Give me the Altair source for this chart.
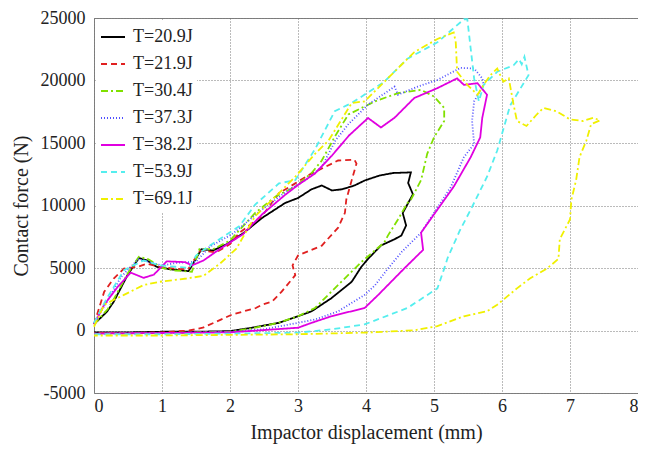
import altair as alt
import pandas as pd

series = ["T=20.9J", "T=21.9J", "T=30.4J", "T=37.3J", "T=38.2J", "T=53.9J", "T=69.1J"]
colors = ["#000000", "#e02020", "#80e000", "#5050ff", "#e000e0", "#55eeee", "#f0f000"]
dashes = [[1, 0], [6, 4], [7, 3, 2, 3], [1, 2], [1, 0], [6, 4], [7, 3, 2, 3]]

x_209 = [0, 0.19, 0.29, 0.49, 0.66, 0.78, 0.92, 1.12, 1.39, 1.44, 1.58, 1.75, 1.95, 2.2, 2.47, 2.81, 3.0, 3.2,
         3.35, 3.5, 3.65, 3.83, 3.98, 4.2, 4.4, 4.66, 4.62, 4.69, 4.6, 4.54, 4.59, 4.52, 4.42, 4.22, 4.03, 3.93,
         3.79, 3.49, 3.2, 3.0, 2.72, 2.3, 2.0, 1.5, 1.0, 0.5, 0]
y_209 = [500, 1500, 2300, 4400, 5800, 5600, 5100, 4900, 4750, 5200, 6500, 6400, 6900, 7800, 9000, 10200, 10600,
         11300, 11600, 11200, 11300, 11600, 12000, 12400, 12600, 12650, 11800, 10900, 10000, 9400, 8400, 7600,
         7300, 6800, 5730, 5080, 3900, 2580, 1535, 1140, 614, 200, -50, -100, -100, -150, -150]

x_219 = [0, 0.15, 0.29, 0.44, 0.63, 0.78, 0.97, 1.27, 1.39, 1.56, 1.8, 2.0, 2.14, 2.47, 2.72, 2.96, 3.15, 3.4,
         3.59, 3.83, 3.86, 3.79, 3.71, 3.69, 3.59, 3.35, 3.0, 2.92, 2.96, 2.76, 2.62, 2.47, 2.38, 2.03, 1.6, 1.4,
         1.0, 0.5, 0]
y_219 = [500, 3100, 4160, 4950, 5080, 5340, 5080, 4900, 4950, 6390, 6260, 6910, 7830, 9150, 10980, 11770, 12420,
         13090, 13600, 13660, 13350, 12030, 10460, 9410, 8230, 6790, 6000, 5210, 4425, 3110, 2320, 2060, 1800,
         1275, 220, 0, -150, -200, -200]

x_304 = [0, 0.2, 0.3, 0.5, 0.66, 0.8, 1.0, 1.2, 1.44, 1.55, 1.75, 2.0, 2.37, 2.67, 2.96, 3.2, 3.35, 3.54, 3.74,
         4.13, 4.47, 4.81, 5.0, 5.15, 5.15, 5.0, 4.9, 4.81, 4.66, 4.61, 4.47, 4.32, 4.27, 3.93, 3.54, 3.25, 3.0,
         2.7, 2.3, 2.0, 1.0, 0]
y_304 = [500, 1700, 2600, 4600, 5900, 5700, 5000, 4800, 4700, 6500, 6500, 7200, 9410, 10720, 11510, 12600,
         13600, 15500, 17280, 18330, 18990, 19250, 18720, 17810, 16760, 15450, 14130, 12030, 10460, 10200, 8880,
         7570, 7050, 5470, 3370, 1800, 1140, 600, 150, -100, -200, -250]

x_373 = [0, 0.2, 0.4, 0.65, 0.8, 1.0, 1.2, 1.5, 1.7, 2.03, 2.47, 2.86, 3.1, 3.35, 3.55, 3.74, 4.03, 4.42, 4.47,
         4.76, 5.05, 5.39, 5.59, 5.71, 5.73, 5.59, 5.56, 5.59, 5.44, 5.25, 5.0, 4.81, 4.52, 4.3, 4.13, 3.98, 3.59,
         3.25, 3.0, 2.5, 2.0, 1.0, 0]
y_373 = [600, 2400, 4300, 5700, 5500, 5200, 5400, 5500, 6700, 7700, 9670, 11240, 12000, 13090, 15200, 16500,
         18070, 19510, 18860, 19510, 20040, 21010, 20960, 20170, 19650, 18330, 16760, 14920, 13870, 11510, 9410,
         7830, 6260, 4800, 3600, 2850, 1535, 880, 614, 100, -100, -200, -250]

x_382 = [0, 0.15, 0.35, 0.54, 0.73, 0.88, 1.07, 1.34, 1.44, 1.61, 1.85, 2.19, 2.47, 2.81, 3.0, 3.25, 3.5, 3.75,
         4.03, 4.22, 4.42, 4.71, 5.05, 5.34, 5.44, 5.64, 5.78, 5.71, 5.68, 5.54, 5.29, 5.05, 4.81, 4.84, 4.56,
         4.18, 3.98, 3.49, 3.2, 3.0, 2.0, 1.0, 0]
y_382 = [500, 2060, 3500, 4630, 4210, 4470, 5530, 5470, 5210, 5600, 6520, 7700, 9280, 10850, 11640, 12560, 14000,
         15600, 17000, 16240, 17020, 18600, 19390, 20170, 19650, 19780, 18860, 17020, 15450, 13870, 11510, 9670,
         7830, 6450, 4950, 2850, 1800, 1140, 614, 220, -150, -200, -250]

x_539 = [0, 0.19, 0.44, 0.58, 0.73, 0.97, 1.2, 1.4, 1.5, 1.7, 2.14, 2.37, 2.72, 2.96, 3.25, 3.54, 3.79, 4.27,
         4.61, 5.05, 5.44, 5.49, 5.54, 5.59, 5.66, 5.73, 5.93, 6.17, 6.25, 6.29, 6.33, 6.39, 6.12, 5.93, 5.78,
         5.54, 5.38, 5.2, 5.15, 5.05, 4.61, 3.98, 3.49, 3.0, 2.0, 1.0, 0]
y_539 = [600, 2580, 4820, 5210, 5600, 5210, 5100, 5000, 6000, 6790, 8360, 10070, 11770, 12030, 14500, 17540,
         18200, 19900, 21750, 23050, 24900, 24900, 22540, 20170, 18330, 19650, 20700, 21220, 21700, 21300, 21900,
         20430, 18000, 14400, 12300, 9670, 8000, 5800, 4950, 3370, 1800, 490, 90, -170, -250, -300, -300]

x_691 = [0, 0.15, 0.44, 0.73, 0.97, 1.36, 1.61, 1.85, 2.09, 2.37, 2.67, 2.96, 3.25, 3.45, 3.79, 3.98, 4.27, 4.71,
         5.05, 5.29, 5.32, 5.34, 5.49, 5.64, 5.73, 5.83, 5.93, 6.02, 6.1, 6.17, 6.22, 6.36, 6.51, 6.61, 6.8, 7.0,
         7.19, 7.34, 7.44, 7.31, 7.24, 7.14, 7.09, 7.02, 7.0, 6.85, 6.83, 6.66, 6.41, 6.22, 5.93, 5.78, 5.44, 5.05,
         4.71, 3.98, 3.0, 2.0, 1.0, 0]
y_691 = [300, 2060, 2850, 3640, 3900, 4160, 4370, 5340, 6520, 9150, 10720, 12300, 14130, 15200, 18200, 18330,
         19900, 22270, 23320, 23840, 23050, 20700, 19650, 18860, 19650, 20430, 20960, 19900, 20170, 18070, 16760,
         16360, 17280, 17810, 17540, 16890, 16760, 17020, 16810, 16500, 15180, 13870, 12030, 10460, 8880, 7310,
         5730, 4950, 4160, 3370, 2060, 1535, 1140, 350, 15, -170, -300, -350, -400, -400]

xs = [x_209, x_219, x_304, x_373, x_382, x_539, x_691]
ys = [y_209, y_219, y_304, y_373, y_382, y_539, y_691]

rows = []
for name, xx, yy in zip(series, xs, ys):
    for i, (a, b) in enumerate(zip(xx, yy)):
        rows.append({"T": name, "d": a, "F": b, "i": i})
df = pd.DataFrame(rows)

FONT = "Liberation Serif"

chart = alt.Chart(df).mark_line(strokeWidth=1.8).encode(
    x=alt.X("d:Q", scale=alt.Scale(domain=[0, 8], nice=False),
            axis=alt.Axis(title="Impactor displacement (mm)", values=list(range(0, 9)),
                          labelExpr="'' + datum.value")),
    y=alt.Y("F:Q", scale=alt.Scale(domain=[-5000, 25000], nice=False),
            axis=alt.Axis(title="Contact force (N)", values=list(range(-5000, 25001, 5000)),
                          labelExpr="'' + datum.value")),
    color=alt.Color("T:N", scale=alt.Scale(domain=series, range=colors),
                    legend=alt.Legend(title=None, orient="top-left")),
    strokeDash=alt.StrokeDash("T:N", scale=alt.Scale(domain=series, range=dashes),
                              legend=alt.Legend(title=None, orient="top-left")),
    order="i:Q",
).properties(
    width=544, height=375,
    autosize=alt.AutoSizeParams(type="none"),
    padding={"left": 86, "top": 10, "right": 0, "bottom": 52},
).configure_view(
    stroke="#808080", strokeWidth=1
).configure_axis(
    domain=False, ticks=False,
    grid=True, gridDash=[1, 2], gridColor="#777777", gridWidth=1,
    labelFont=FONT, labelFontSize=18, labelColor="#222222",
    titleFont=FONT, titleFontSize=20, titleFontWeight="normal", titleColor="#222222",
).configure_axisX(
    labelPadding=4, titlePadding=7
).configure_axisY(
    labelPadding=9, titlePadding=9
).configure_legend(
    labelFont=FONT, labelFontSize=18, labelColor="#222222",
    symbolType="stroke", symbolSize=576, symbolStrokeWidth=2,
    fillColor="white", padding=4, offset=2, rowPadding=5, labelOffset=7,
)

chart.save("out.html", embed_options={"renderer": "svg", "actions": False})
